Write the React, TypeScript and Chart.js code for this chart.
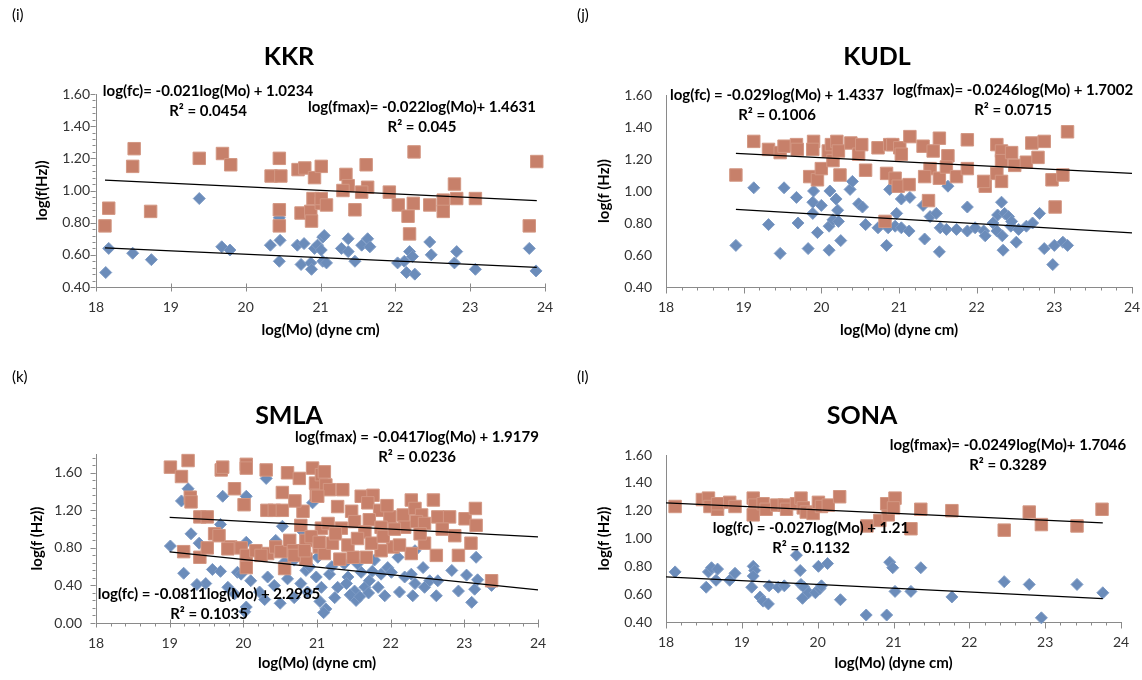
import React, { useEffect, useRef } from 'react';
import { Chart, registerables } from 'chart.js';

Chart.register(...registerables);

// ---------- shared ticks ----------
const xTickValues = [18, 19, 20, 21, 22, 23, 24];
const yTicksStd = [0.4, 0.6, 0.8, 1.0, 1.2, 1.4, 1.6];
const yTicksSmla = [0, 0.4, 0.8, 1.2, 1.6];

// ---------- KKR ----------
const kkrFc = [
  [18.13, 0.49], [18.17, 0.64], [18.49, 0.61], [18.74, 0.57], [19.38, 0.95], [19.68, 0.65], [19.79, 0.63],
  [20.33, 0.66], [20.46, 0.69], [20.45, 0.56], [20.45, 0.83], [20.69, 0.66], [20.78, 0.67], [20.74, 0.54],
  [20.87, 0.55], [20.88, 0.51], [20.92, 0.64], [20.96, 0.66], [21.03, 0.71], [21.03, 0.56], [21.05, 0.72],
  [21.01, 0.63], [21.08, 0.55], [21.37, 0.70], [21.28, 0.64], [21.37, 0.62], [21.46, 0.56], [21.55, 0.66],
  [21.63, 0.70], [21.66, 0.65], [22.03, 0.55], [22.12, 0.56], [22.19, 0.62], [22.15, 0.49], [22.26, 0.48],
  [22.23, 0.59], [22.46, 0.68], [22.48, 0.60], [22.79, 0.55], [22.82, 0.62], [23.07, 0.51], [23.79, 0.64],
  [23.88, 0.50],
];
const kkrFmax = [
  [18.51, 1.26], [18.49, 1.15], [18.17, 0.89], [18.12, 0.78], [18.73, 0.87], [19.38, 1.20], [19.69, 1.23],
  [19.80, 1.16], [20.34, 1.09], [20.45, 1.20], [20.47, 1.09], [20.45, 0.88], [20.45, 0.78], [20.70, 1.13],
  [20.79, 1.14], [20.92, 1.08], [20.90, 0.95], [20.74, 0.86], [20.87, 0.87], [20.88, 0.81], [21.01, 1.15],
  [21.01, 0.92], [21.34, 1.10], [21.37, 1.03], [21.61, 1.16], [21.63, 1.02], [21.55, 0.99], [21.30, 1.00],
  [21.01, 0.95], [21.08, 0.91], [21.46, 0.88], [21.92, 0.99], [22.04, 0.91], [22.24, 0.92], [22.17, 0.84],
  [22.19, 0.73], [22.25, 1.24], [22.46, 0.91], [22.64, 0.94], [22.64, 0.87], [22.79, 1.04], [22.82, 0.95],
  [23.07, 0.95], [23.89, 1.18], [23.79, 0.78],
];
const kkrFcFit = [-0.021, 1.0234];
const kkrFmaxFit = [-0.022, 1.4631];
const kkrFitRange = [18.12, 23.89];
const kkrFcText = ['log(fc)= -0.021log(Mo) + 1.0234', 'R² = 0.0454'];
const kkrFmaxText = ['log(fmax)= -0.022log(Mo)+ 1.4631', 'R² = 0.045'];

// ---------- KUDL ----------
const kudlFc = [
  [18.90, 0.66], [19.13, 1.02], [19.32, 0.79], [19.47, 0.61], [19.52, 1.02], [19.68, 0.96], [19.70, 0.80],
  [19.83, 0.64], [19.89, 0.93], [19.90, 1.00], [19.89, 0.86], [19.95, 0.74], [20.00, 0.91], [20.10, 0.63],
  [20.11, 1.00], [20.10, 0.78], [20.15, 0.82], [20.19, 0.95], [20.21, 0.88], [20.22, 0.81], [20.25, 0.69],
  [20.37, 1.01], [20.40, 1.06], [20.48, 0.92], [20.53, 0.90], [20.57, 0.79], [20.73, 0.77], [20.84, 0.66],
  [20.88, 1.01], [20.86, 0.77], [20.97, 0.86], [20.95, 0.78], [21.03, 0.95], [21.14, 0.96], [21.03, 0.77],
  [21.13, 0.75], [21.31, 0.91], [21.33, 0.70], [21.40, 0.84], [21.48, 0.86], [21.52, 0.62], [21.53, 0.77],
  [21.63, 1.03], [21.61, 0.76], [21.74, 0.76], [21.88, 0.90], [21.88, 0.75], [21.98, 0.77], [22.09, 0.75],
  [22.11, 0.72], [22.21, 0.80], [22.26, 0.75], [22.32, 0.93], [22.27, 0.85], [22.36, 0.86], [22.41, 0.84],
  [22.44, 0.78], [22.33, 0.72], [22.34, 0.63], [22.45, 0.81], [22.51, 0.68], [22.54, 0.76], [22.64, 0.78],
  [22.72, 0.80], [22.81, 0.86], [22.87, 0.64], [22.98, 0.54], [23.00, 0.66], [23.11, 0.68], [23.17, 0.66],
];
const kudlFmax = [
  [18.90, 1.10], [19.13, 1.31], [19.32, 1.26], [19.47, 1.24], [19.52, 1.28], [19.68, 1.29], [19.69, 1.26],
  [19.85, 1.09], [19.90, 1.31], [19.89, 1.26], [19.95, 1.07], [20.00, 1.14], [20.09, 1.25], [20.13, 1.29],
  [20.15, 1.19], [20.20, 1.31], [20.22, 1.25], [20.24, 1.10], [20.38, 1.30], [20.48, 1.23], [20.52, 1.29],
  [20.57, 1.13], [20.73, 1.27], [20.84, 1.11], [20.88, 1.29], [20.82, 0.81], [20.92, 1.29], [21.01, 1.27],
  [21.03, 1.23], [21.14, 1.34], [20.95, 1.08], [20.99, 1.03], [21.13, 1.04], [21.31, 1.28], [21.44, 1.25],
  [21.52, 1.33], [21.40, 1.14], [21.33, 1.09], [21.52, 1.08], [21.63, 1.22], [21.61, 1.15], [21.74, 1.09],
  [21.38, 0.94], [21.88, 1.32], [21.88, 1.14], [22.11, 1.03], [22.09, 1.06], [22.26, 1.29], [22.32, 1.25],
  [22.32, 1.19], [22.45, 1.24], [22.26, 1.11], [22.32, 1.06], [22.49, 1.16], [22.64, 1.18], [22.71, 1.30],
  [22.79, 1.21], [22.87, 1.31], [22.97, 1.07], [23.11, 1.10], [23.01, 0.90], [23.17, 1.37],
];
const kudlFcFit = [-0.029, 1.4337];
const kudlFmaxFit = [-0.0246, 1.7002];
const kudlFitRange = [18.9, 24];
const kudlFcText = ['log(fc) = -0.029log(Mo) + 1.4337', 'R² = 0.1006'];
const kudlFmaxText = ['log(fmax)= -0.0246log(Mo) + 1.7002', 'R² = 0.0715'];

// ---------- SMLA ----------
const smlaFc = [
  [19.01, 0.82], [19.19, 0.53], [19.16, 1.30], [19.25, 1.43], [19.29, 0.95], [19.40, 0.85], [19.49, 0.42],
  [19.58, 0.57], [19.69, 0.55], [19.69, 1.05], [19.72, 1.35], [19.79, 0.38], [19.88, 0.31], [19.92, 0.54],
  [20.04, 1.35], [20.04, 0.86], [20.04, 0.17], [20.10, 0.45], [20.22, 0.33], [20.31, 1.54], [20.33, 0.49],
  [20.44, 0.88], [20.53, 1.03], [20.56, 0.65], [20.69, 0.67], [20.78, 0.42], [20.85, 0.56], [20.81, 0.97],
  [20.94, 1.28], [20.99, 0.49], [21.01, 0.70], [20.87, 0.33], [20.69, 0.27], [20.42, 0.40], [20.29, 0.25],
  [20.02, 0.12], [21.12, 0.15], [21.24, 0.27], [21.28, 0.38], [21.06, 0.38], [21.17, 0.52], [21.42, 0.49],
  [21.51, 0.34], [21.53, 0.24], [21.65, 0.38], [21.60, 0.54], [21.71, 0.45], [21.92, 0.29], [21.87, 0.52],
  [21.96, 0.59], [22.12, 0.33], [22.19, 0.49], [22.30, 0.29], [22.33, 0.42], [22.46, 0.38], [22.44, 0.59],
  [22.53, 0.45], [22.62, 0.29], [22.64, 0.45], [22.83, 0.56], [22.92, 0.34], [23.03, 0.51], [23.14, 0.36],
  [23.10, 0.22], [23.16, 0.70], [23.18, 0.46], [23.37, 0.40], [22.28, 0.52], [22.10, 0.70], [22.01, 0.54],
  [21.37, 0.63], [21.78, 0.67], [22.33, 0.77], [21.83, 0.38], [19.37, 0.41], [19.97, 0.52], [20.50, 0.21],
  [21.04, 0.23], [21.45, 0.30], [21.58, 0.28], [21.70, 0.32], [21.40, 0.42], [21.75, 0.55], [20.60, 0.47],
  [20.90, 0.60], [21.20, 0.60], [21.55, 0.63], [21.09, 0.11],
];
const smlaFmax = [
  [19.01, 1.66], [19.25, 1.73], [19.16, 1.56], [19.28, 1.34], [19.29, 1.29], [19.41, 1.13], [19.51, 1.13],
  [19.61, 0.95], [19.67, 0.93], [19.19, 0.76], [19.41, 0.70], [19.51, 0.80], [19.70, 1.63], [19.72, 1.66],
  [19.88, 1.43], [20.01, 1.26], [20.04, 1.69], [20.04, 1.65], [19.83, 0.81], [19.97, 0.80], [20.04, 0.72],
  [20.04, 0.59], [20.17, 0.77], [20.31, 1.63], [20.32, 1.20], [20.42, 1.20], [20.33, 0.74], [20.44, 0.81],
  [20.51, 0.76], [20.53, 1.20], [20.53, 1.39], [20.56, 0.58], [20.60, 1.60], [20.63, 0.88], [20.68, 0.77],
  [20.76, 1.54], [20.81, 1.19], [20.78, 1.04], [20.85, 0.88], [20.85, 0.68], [20.94, 1.65], [20.98, 1.49],
  [20.99, 1.36], [21.06, 1.58], [21.03, 0.81], [21.06, 1.01], [20.92, 0.92], [19.79, 0.79], [20.24, 0.72],
  [20.69, 0.72], [20.83, 0.77], [21.10, 1.61], [21.12, 1.47], [21.17, 1.42], [21.01, 1.35], [21.35, 1.42],
  [21.28, 1.24], [21.60, 1.35], [21.76, 1.36], [21.69, 1.28], [21.47, 1.19], [21.85, 1.20], [21.99, 1.13],
  [21.15, 1.06], [21.33, 1.01], [21.51, 1.08], [21.71, 1.10], [21.65, 0.97], [21.87, 1.02], [22.17, 1.15],
  [22.28, 1.31], [22.33, 1.22], [22.42, 1.15], [22.19, 1.02], [22.35, 1.08], [22.46, 1.06], [22.58, 1.31],
  [22.64, 1.13], [22.80, 1.13], [22.87, 0.93], [23.01, 1.11], [23.15, 1.22], [23.16, 1.04], [23.09, 0.85],
  [22.92, 0.72], [22.62, 0.72], [22.46, 0.85], [22.28, 0.74], [22.03, 0.81], [21.87, 0.77], [21.67, 0.70],
  [21.49, 0.70], [21.31, 0.68], [21.10, 0.74], [21.03, 0.86], [21.21, 0.85], [21.42, 0.83], [21.74, 0.85],
  [22.12, 0.83], [23.37, 0.45], [21.55, 0.90], [21.90, 0.92], [22.05, 1.00], [22.40, 0.95], [22.70, 1.00],
  [21.25, 0.95], [20.70, 1.30], [21.95, 1.25],
];
const smlaFcFit = [-0.0811, 2.2985];
const smlaFmaxFit = [-0.0417, 1.9179];
const smlaFitRange = [19.0, 24];
const smlaFcText = ['log(fc) = -0.0811log(Mo) + 2.2985', 'R² = 0.1035'];
const smlaFmaxText = ['log(fmax) = -0.0417log(Mo) + 1.9179', 'R² = 0.0236'];

// ---------- SONA ----------
const sonaFc = [
  [18.12, 0.76], [18.53, 0.65], [18.56, 0.76], [18.60, 0.79], [18.68, 0.78], [18.66, 0.70], [18.84, 0.70],
  [18.91, 0.75], [19.13, 0.65], [19.15, 0.80], [19.17, 0.77], [19.15, 0.73], [19.24, 0.58], [19.28, 0.55],
  [19.35, 0.53], [19.36, 0.66], [19.48, 0.65], [19.56, 0.66], [19.72, 0.88], [19.77, 0.77], [19.78, 0.67],
  [19.82, 0.65], [19.80, 0.57], [19.88, 0.61], [19.97, 0.61], [20.01, 0.80], [20.03, 0.64], [20.05, 0.66],
  [20.13, 0.82], [20.30, 0.56], [20.64, 0.45], [20.91, 0.45], [20.95, 0.83], [20.99, 0.79], [21.02, 0.62],
  [21.23, 0.62], [21.36, 0.79], [21.77, 0.58], [22.46, 0.69], [22.79, 0.67], [22.95, 0.43], [23.42, 0.67],
  [23.76, 0.61],
];
const sonaFmax = [
  [18.12, 1.23], [18.48, 1.28], [18.56, 1.29], [18.58, 1.23], [18.68, 1.21], [18.68, 1.25], [18.84, 1.26],
  [18.91, 1.23], [19.15, 1.29], [19.17, 1.24], [19.15, 1.17], [19.28, 1.25], [19.32, 1.21], [19.46, 1.24],
  [19.56, 1.24], [19.59, 1.21], [19.72, 1.25], [19.78, 1.29], [19.81, 1.22], [19.85, 1.19], [19.94, 1.18],
  [20.01, 1.26], [20.05, 1.23], [20.14, 1.24], [20.29, 1.30], [20.65, 1.09], [20.82, 1.13], [20.93, 1.17],
  [20.91, 1.25], [21.02, 1.29], [21.00, 1.22], [21.23, 1.07], [21.36, 1.21], [21.77, 1.20], [22.46, 1.06],
  [22.79, 1.19], [22.95, 1.10], [23.42, 1.09], [23.75, 1.21],
];
const sonaFcFit = [-0.027, 1.21];
const sonaFmaxFit = [-0.0249, 1.7046];
const sonaFitRange = [18.0, 23.76];
const sonaFcText = ['log(fc) = -0.027log(Mo) + 1.21', 'R² = 0.1132'];
const sonaFmaxText = ['log(fmax)= -0.0249log(Mo)+ 1.7046', 'R² = 0.3289'];

// ---------- styling ----------
const FONT = 'Lato, "Liberation Sans", sans-serif';
const BLUE = '#6b8cba';
const BLUE_EDGE = '#7e9bc5';
const ORANGE = '#c7806a';
const ORANGE_EDGE = '#d39783';
const AXIS = '#8a8a8a';
const TICK_TEXT = '#333333';
const W = 1142;
const H = 680;
const Y_AXIS_W = 60;
const X_AXIS_H = 40;

type Panel = {
  id: string;
  letter: string;
  title: string;
  yTitle: string;
  fc: number[][];
  fmax: number[][];
  fcFit: number[];
  fmaxFit: number[];
  fitRange: number[];
  fcText: string[];
  fmaxText: string[];
  yTicks: number[];
  yMin: number;
  yMax: number;
  area: number[];
  letterPos: number[];
  titlePos: number[];
  fcTextPos: number[];
  fmaxTextPos: number[];
  yTitleX: number;
  xTitleY: number;
  yLabelPad: number;
  xMajor: number[];
  xMinor: number;
  yMajor: number;
  yMinor: number[];
};

const panels: Panel[] = [
  {
    id: 'kkr', letter: '(i)', title: 'KKR', yTitle: 'log(f(Hz))',
    fc: kkrFc, fmax: kkrFmax, fcFit: kkrFcFit, fmaxFit: kkrFmaxFit, fitRange: kkrFitRange,
    fcText: kkrFcText, fmaxText: kkrFmaxText, yTicks: yTicksStd, yMin: 0.4, yMax: 1.6,
    area: [96, 94, 545, 287], letterPos: [12, 15], titlePos: [289, 57],
    fcTextPos: [208, 91], fmaxTextPos: [422, 107], yTitleX: 42, xTitleY: 330, yLabelPad: 6,
    xMajor: [4, 4], xMinor: 0, yMajor: 5, yMinor: [0.04, 3],
  },
  {
    id: 'kudl', letter: '(j)', title: 'KUDL', yTitle: 'log(f (Hz))',
    fc: kudlFc, fmax: kudlFmax, fcFit: kudlFcFit, fmaxFit: kudlFmaxFit, fitRange: kudlFitRange,
    fcText: kudlFcText, fmaxText: kudlFmaxText, yTicks: yTicksStd, yMin: 0.4, yMax: 1.6,
    area: [666, 95, 1132, 287], letterPos: [577, 15], titlePos: [877, 57],
    fcTextPos: [777, 95], fmaxTextPos: [1013, 90], yTitleX: 604, xTitleY: 330, yLabelPad: 14,
    xMajor: [0, 6], xMinor: 3, yMajor: 0, yMinor: [0, 0],
  },
  {
    id: 'smla', letter: '(k)', title: 'SMLA', yTitle: 'log(f (Hz))',
    fc: smlaFc, fmax: smlaFmax, fcFit: smlaFcFit, fmaxFit: smlaFmaxFit, fitRange: smlaFitRange,
    fcText: smlaFcText, fmaxText: smlaFmaxText, yTicks: yTicksSmla, yMin: 0, yMax: 1.8,
    area: [96, 454, 538, 623], letterPos: [12, 377], titlePos: [289, 416],
    fcTextPos: [209, 594], fmaxTextPos: [417, 437], yTitleX: 37, xTitleY: 663, yLabelPad: 14,
    xMajor: [4, 4], xMinor: 3, yMajor: 5, yMinor: [0.08, 3],
  },
  {
    id: 'sona', letter: '(l)', title: 'SONA', yTitle: 'log(f (Hz))',
    fc: sonaFc, fmax: sonaFmax, fcFit: sonaFcFit, fmaxFit: sonaFmaxFit, fitRange: sonaFitRange,
    fcText: sonaFcText, fmaxText: sonaFmaxText, yTicks: yTicksStd, yMin: 0.4, yMax: 1.6,
    area: [666, 455, 1121, 622], letterPos: [577, 377], titlePos: [862, 416],
    fcTextPos: [811, 528], fmaxTextPos: [1008, 445], yTitleX: 604, xTitleY: 663, yLabelPad: 14,
    xMajor: [0, 6], xMinor: 3, yMajor: 0, yMinor: [0, 0],
  },
];

function makeDeco(p: Panel) {
  return {
    id: 'deco-' + p.id,
    afterDraw(chart: any) {
      const ctx: CanvasRenderingContext2D = chart.ctx;
      const xs = chart.scales.x;
      const ys = chart.scales.y;
      const { left, right, top, bottom } = chart.chartArea;
      ctx.save();
      ctx.strokeStyle = AXIS;
      ctx.lineWidth = 1;
      ctx.beginPath();
      const by = Math.round(bottom) + 0.5;
      const lx = Math.round(left) - 0.5;
      for (const v of xTickValues) {
        const px = Math.round(xs.getPixelForValue(v)) + 0.5;
        ctx.moveTo(px, by - p.xMajor[0]);
        ctx.lineTo(px, by + p.xMajor[1]);
      }
      if (p.xMinor) {
        const n = Math.round((xs.max - xs.min) * 5);
        for (let i = 1; i < n; i++) {
          if (i % 5 === 0) continue;
          const px = Math.round(xs.getPixelForValue(xs.min + i * 0.2)) + 0.5;
          ctx.moveTo(px, by);
          ctx.lineTo(px, by + p.xMinor);
        }
      }
      if (p.yMajor) {
        for (const v of p.yTicks) {
          const py = Math.round(ys.getPixelForValue(v)) + 0.5;
          ctx.moveTo(lx - p.yMajor, py);
          ctx.lineTo(lx, py);
        }
      }
      if (p.yMinor[0]) {
        const n = Math.round((ys.max - ys.min) / p.yMinor[0]);
        for (let i = 1; i < n; i++) {
          const py = Math.round(ys.getPixelForValue(ys.min + i * p.yMinor[0])) + 0.5;
          ctx.moveTo(lx - p.yMinor[1], py);
          ctx.lineTo(lx, py);
        }
      }
      ctx.stroke();

      const text = (s: string, x: number, y: number, font: string, align: CanvasTextAlign = 'center') => {
        ctx.font = font;
        ctx.textAlign = align;
        ctx.textBaseline = 'middle';
        ctx.fillStyle = '#000000';
        ctx.fillText(s, x, y);
      };
      text(p.letter, p.letterPos[0], p.letterPos[1], `15px ${FONT}`, 'left');
      text(p.title, p.titlePos[0], p.titlePos[1], `bold 25px ${FONT}`);
      text(p.fcText[0], p.fcTextPos[0], p.fcTextPos[1], `bold 15px ${FONT}`);
      text(p.fcText[1], p.fcTextPos[0], p.fcTextPos[1] + 20, `bold 15px ${FONT}`);
      text(p.fmaxText[0], p.fmaxTextPos[0], p.fmaxTextPos[1], `bold 15px ${FONT}`);
      text(p.fmaxText[1], p.fmaxTextPos[0], p.fmaxTextPos[1] + 20, `bold 15px ${FONT}`);
      text('log(Mo) (dyne cm)', (left + right) / 2, p.xTitleY, `bold 15px ${FONT}`);
      ctx.translate(p.yTitleX, (top + bottom) / 2);
      ctx.rotate(-Math.PI / 2);
      text(p.yTitle, 0, 0, `bold 15px ${FONT}`);
      ctx.restore();
    },
  };
}

function fitLine(fit: number[], range: number[]) {
  return range.map((x) => ({ x, y: fit[0] * x + fit[1] }));
}

function PanelChart({ p }: { p: Panel }) {
  const ref = useRef<HTMLCanvasElement>(null);
  useEffect(() => {
    const canvas = ref.current;
    if (!canvas) return;
    const [aL, aT, aR, aB] = p.area;
    const chart = new Chart(canvas, {
      type: 'scatter',
      data: {
        datasets: [
          {
            label: 'fc trend',
            data: fitLine(p.fcFit, p.fitRange),
            showLine: true,
            borderColor: '#000000',
            borderWidth: 1.2,
            pointRadius: 0,
            order: 0,
            clip: false,
          } as any,
          {
            label: 'fmax trend',
            data: fitLine(p.fmaxFit, p.fitRange),
            showLine: true,
            borderColor: '#000000',
            borderWidth: 1.2,
            pointRadius: 0,
            order: 0,
            clip: false,
          } as any,
          {
            label: 'fmax',
            data: p.fmax.map(([x, y]) => ({ x, y })),
            pointStyle: 'rect',
            pointRadius: 8.8,
            backgroundColor: ORANGE,
            borderColor: ORANGE_EDGE,
            borderWidth: 1,
            order: 1,
            clip: false,
          } as any,
          {
            label: 'fc',
            data: p.fc.map(([x, y]) => ({ x, y })),
            pointStyle: 'rectRot',
            pointRadius: 6,
            backgroundColor: BLUE,
            borderColor: BLUE_EDGE,
            borderWidth: 1,
            order: 2,
            clip: false,
          } as any,
        ],
      },
      options: {
        responsive: false,
        animation: false,
        devicePixelRatio: 1,
        events: [],
        layout: {
          padding: {
            left: aL - Y_AXIS_W,
            top: aT,
            right: W - aR,
            bottom: H - aB - X_AXIS_H,
          },
        },
        plugins: {
          legend: { display: false },
          tooltip: { enabled: false },
          title: { display: false },
        },
        scales: {
          x: {
            type: 'linear',
            min: 18,
            max: 24,
            afterBuildTicks: (s: any) => {
              s.ticks = xTickValues.map((v) => ({ value: v }));
            },
            afterFit: (s: any) => {
              s.height = X_AXIS_H;
              s.paddingLeft = 0;
              s.paddingRight = 0;
            },
            grid: { display: false, drawTicks: false },
            border: { display: true, color: AXIS, width: 1 },
            ticks: {
              autoSkip: false,
              maxRotation: 0,
              padding: 12,
              color: TICK_TEXT,
              font: { family: FONT, size: 14 },
              callback: (v: any) => Number(v).toFixed(0),
            },
          },
          y: {
            type: 'linear',
            min: p.yMin,
            max: p.yMax,
            afterBuildTicks: (s: any) => {
              s.ticks = p.yTicks.map((v) => ({ value: v }));
            },
            afterFit: (s: any) => {
              s.width = Y_AXIS_W;
              s.paddingTop = 0;
              s.paddingBottom = 0;
            },
            grid: { display: false, drawTicks: false },
            border: { display: true, color: AXIS, width: 1 },
            ticks: {
              autoSkip: false,
              padding: p.yLabelPad,
              color: TICK_TEXT,
              font: { family: FONT, size: 14 },
              callback: (v: any) => Number(v).toFixed(2),
            },
          },
        },
      } as any,
      plugins: [makeDeco(p)],
    });
    return () => chart.destroy();
  }, [p]);
  return (
    <canvas
      ref={ref}
      width={W}
      height={H}
      style={{ position: 'absolute', left: 0, top: 0, width: W, height: H }}
    />
  );
}

export default function App() {
  return (
    <div
      style={{
        position: 'fixed',
        left: 0,
        top: 0,
        width: W,
        height: H,
        background: '#ffffff',
        overflow: 'hidden',
      }}
    >
      {panels.map((p) => (
        <PanelChart key={p.id} p={p} />
      ))}
    </div>
  );
}
